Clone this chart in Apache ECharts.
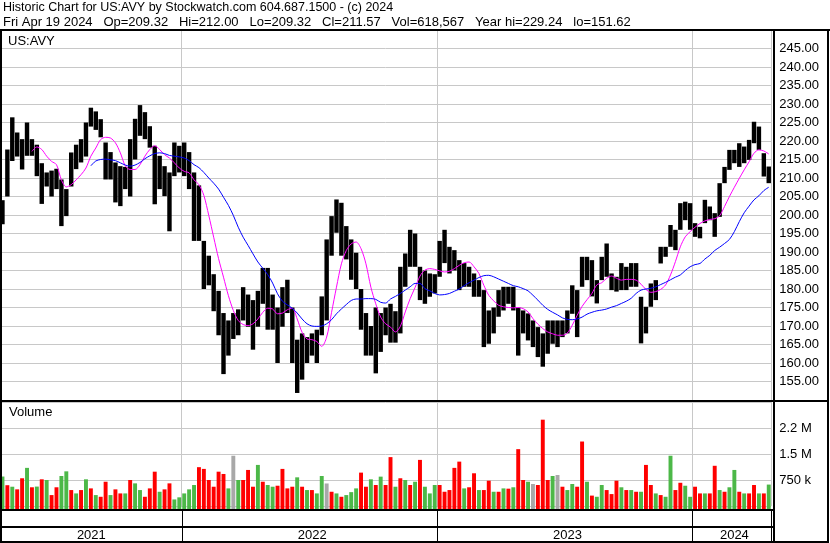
<!DOCTYPE html>
<html>
<head>
<meta charset="utf-8">
<title>Historic Chart for US:AVY</title>
<script src="https://cdn.jsdelivr.net/npm/echarts@6/dist/echarts.min.js"></script>
<style>
  html, body { margin: 0; padding: 0; background: #fff; }
  #chart { width: 830px; height: 543px; }
</style>
</head>
<body>
<div id="chart"></div>
<script>
// 年份与每年的周数（周线数据）
const yearLabels = ['2021', '2022', '2023', '2024'];
const weeksPerYear = [37, 52, 52, 16];

// 每周最高价
const weeklyHigh = [
  204, 217.7, 226.4, 222.3, 220.5, 225, 220.5, 219, 214, 211.5, 212, 212.5, 209.6, 207, 216.9, 219, 220.5, 225, 229, 228,
  225.9, 219.6, 217, 214.2, 213.2, 213, 220.5, 226, 229.7, 227.8, 224, 218.7, 216, 213.2, 211.5, 219.6, 218.7,
  219.6, 217, 211.5, 208, 193, 189, 184, 179.5, 173.5, 171.5, 173.5, 174.5, 180.5, 178.5, 177, 179.5, 185.7, 185.7, 178.5,
  175, 180.5, 182.5, 175, 166.3, 168, 167, 168, 169, 178, 193.4, 199.7, 204.2, 203.3, 197, 193.4, 189.8, 180, 173.5, 170,
  175, 173.5, 175, 176, 174, 186, 189.6, 196, 195, 186, 185, 184.2, 184,
  193, 196, 191.4, 190.5, 187.8, 187, 186, 184.2, 182.4, 179.7, 174.2, 175, 179.7, 180.6, 180.6, 180.6, 175, 174.2, 173.4,
  171.5, 169.7, 168, 171.5, 171.5, 171.5, 171.5, 174.2, 181, 179.7, 188.7, 188.7, 187.8, 182.4, 188.7, 192.3, 184.2, 183.3,
  187, 186, 187, 187, 177.9, 175.2, 181.5, 182.4, 191.4, 191.4, 197.3, 196, 203.2, 203.6, 203.2,
  197.8, 196.8, 204.1, 202.3, 200.5, 208.6, 213, 217.6, 217.6, 219.4, 218.5, 220.3, 225.2, 223.9, 216.7, 213.1
];

// 每周最低价
const weeklyLow = [
  197.5, 205, 214.6, 215.8, 212.3, 216, 216, 210.5, 203, 207.7, 205, 207, 197, 199.7, 207.7, 212.4, 214.2, 215.8, 223.9, 223,
  221, 209.6, 209.6, 203.4, 202.4, 207, 205, 215, 221.4, 220.5, 218.2, 202.9, 207, 205.1, 195.6, 210.5, 211.5,
  210.5, 207, 193, 193, 180, 181, 174, 167.5, 157, 162, 166.5, 167.5, 171.5, 169.8, 163.6, 169.8, 176, 169, 169,
  160, 169.8, 173.5, 160, 151.9, 155.5, 160, 162, 160, 167.5, 171.5, 189, 195.2, 189, 188, 182.5, 180, 169, 162, 162,
  157.2, 163, 167.5, 165.5, 165.5, 168, 180.6, 186, 186, 177, 176, 177.9, 178.8,
  183.3, 187, 184.2, 185, 179.7, 180.6, 180.6, 177.9, 177.9, 164.3, 165.2, 168, 172.5, 174.2, 176, 174.2, 162, 168, 166.1,
  164.3, 161.6, 159, 162.5, 165.2, 164.3, 167, 168, 173.3, 167, 180.6, 182.4, 178, 176.1, 182.4, 183.3, 179.7, 179.3,
  179.7, 179.7, 180.6, 180.6, 165.3, 168, 175.2, 177, 186.9, 188.7, 191.4, 190.5, 196, 198.6, 196,
  194.1, 193.7, 197.8, 198.6, 194.1, 199.5, 208.6, 212.2, 214, 213, 214, 214.9, 219.4, 217.6, 210.4, 208.6
];

// 短期均线（洋红）
const maFast = [
  null, null, null, null, null, null, 217.2, 218.4, 217.7, 215.9, 214.5, 213.6, 209.5, 207.6, 208.2, 209.5, 210.9, 212.7, 215.9, 218.1,
  220.4, 221, 220.8, 219.5, 216.8, 213.3, 212.3, 212.3, 213.6, 215.9, 217.7, 218.7, 217.7, 216.3, 215.4, 214.1, 212.7,
  211.8, 211.4, 209.5, 208.2, 205.3, 199.9, 194, 188.2, 183.2, 178.2, 174.2, 171.5, 170.4, 170.1, 170.6, 171.9, 173.7, 174.8, 174.6,
  173.3, 173.5, 174.4, 174.8, 171.9, 168.3, 166.5, 166.3, 165.8, 164.5, 167, 173.7, 180.5, 186.8, 190.4, 192.2, 192.7, 190.9, 186.8, 180.5,
  176, 172.4, 170.6, 169.7, 168.4, 169.9, 173.8, 177.4, 180.4, 183.5, 185.1, 185.5, 185.3,
  184.9, 184.6, 184.8, 185.5, 186.4, 187.1, 187.3, 186, 184.2, 181, 178.3, 176.8, 175.6, 175.2, 175, 174.9, 175, 174.7, 173.8,
  172, 170.5, 169.3, 168.4, 167.9, 167.5, 167.5, 168.1, 170.2, 172.9, 175.3, 177.1, 178.8, 181.1, 181.7, 182.9, 183.5, 182.9,
  182.4, 182.6, 182.6, 182.4, 181.3, 179.9, 179.1, 179.3, 179.9, 181.1, 183.8, 187.4, 191.4, 194.1, 195.5,
  196.7, 197.7, 198.4, 198.8, 199, 199.8, 202.3, 205, 207.5, 209.9, 212.2, 214.4, 216.7, 217.6, 217.3, 216.5
];

// 长期均线（蓝色）
const maSlow = [
  null, null, null, null, null, null, null, null, null, null, null, null, null, null, null, null, null, null, 213.3, 214.6,
  215, 215.1, 214.9, 214.7, 214.1, 213.5, 213.2, 213.5, 214.2, 215.2, 216, 216.6, 216.8, 216.6, 216.1, 215.9, 215.7,
  215.4, 214.7, 213.6, 212.8, 211.5, 210, 208.6, 207, 204.8, 202.6, 199.9, 196.7, 194, 191.8, 189.5, 187.3, 185.6, 183.9, 181.6,
  178.7, 176.7, 175.7, 174.8, 173.5, 171.9, 170.6, 170, 169.9, 170, 170.6, 171.7, 173.3, 174.6, 175.8, 176.9, 177.3, 177.3, 177.4, 177.4,
  177.2, 176.4, 176.2, 177.3, 178, 178.8, 179.7, 180.6, 181.5, 181.5, 180.1, 179.5, 178.8,
  178.4, 178.5, 178.8, 179.4, 180, 180.9, 181.7, 182.4, 183.1, 183.6, 183.7, 183.3, 182.7, 182.1, 181.5, 180.9, 180.6, 180.1, 179.5,
  178.3, 177, 175.6, 174.5, 173.7, 173, 172.2, 171.8, 171.7, 171.9, 172.4, 173.2, 173.7, 174.1, 174.3, 174.6, 175.1, 175.5,
  176.1, 176.7, 177.5, 178.8, 179.7, 180, 180.2, 180.6, 181.2, 181.8, 182.5, 183.2, 183.8, 185, 186,
  186.6, 186.9, 188.1, 189.1, 190.4, 191.3, 192.3, 193.4, 195.5, 198.2, 200.6, 202.4, 204.1, 205.2, 206.6, 207.5
];

// 成交量（千股）
const volumeK = [
  850, 600, 556, 480, 800, 1100, 540, 560, 770, 750, 315, 540, 866, 1000, 460, 363, 460, 770, 508, 315,
  266, 700, 315, 480, 363, 363, 750, 653, 460, 266, 508, 990, 411, 480, 653, 189, 250,
  363, 480, 605, 1120, 1070, 750, 556, 990, 924, 508, 1450, 750, 750, 1040, 556, 1185, 700, 605, 556, 585,
  1070, 508, 556, 827, 556, 460, 460, 363, 866, 650, 411, 363, 266, 315, 400, 508, 963, 556, 770, 605,
  847, 605, 1410, 556, 800, 750, 605, 700, 1330, 556, 363, 605,
  605, 411, 460, 1100, 1280, 508, 540, 944, 460, 460, 730, 411, 411, 508, 500, 540, 1640, 750, 700, 634,
  605, 2490, 750, 866, 895, 556, 460, 634, 556, 1860, 700, 300, 266, 605, 460, 344, 730, 540, 460, 460,
  411, 411, 1185, 605, 363, 315, 266, 1450, 460, 670, 585, 266,
  556, 363, 363, 363, 1160, 460, 411, 540, 1040, 411, 363, 363, 605, 363, 363, 618
];

// 成交量颜色：g 上涨，r 下跌，n 平
const volumeDir = (
  'grgrrgrgrgrrggrgrgrgrrgrrgrggrrrgrrgg' +
  'gggrrrrrrgngrrrgrggrrrrgrgrggnrgrgggrrgrgrrgrgrgrggg' +
  'rrrrrgrrgrrgrgrgrrgnrrrgnrggrrgrggrrrgrgrgrrgrggrrgg' +
  'rrgrrgrggrgrrgrg'
).split('');

const priceTickStep = 5;
const volumeTicks = [750, 1500, 2250];
const volumeTickLabels = ['750 k', '1.5 M', '2.2 M'];

const headerLine1 = 'Historic Chart for US:AVY by Stockwatch.com 604.687.1500 - (c) 2024';
const headerLine2 = 'Fri Apr 19 2024   Op=209.32   Hi=212.00   Lo=209.32   Cl=211.57   Vol=618,567   Year hi=229.24   lo=151.62';

// 周分类与年份边界
const weeks = [];
const yearStarts = [];
const yearMid = {};
yearLabels.forEach((y, k) => {
  if (k > 0) yearStarts.push(weeks.length);
  yearMid[weeks.length + Math.floor(weeksPerYear[k] / 2)] = y;
  for (let w = 0; w < weeksPerYear[k]; w++) weeks.push(y + '-W' + (w + 1));
});

const FONT = 'Liberation Sans, Arial, sans-serif';
const dirColor = { g: '#4cb848', r: '#ff0000', n: '#a8a8a8' };
const gridColor = '#c8c8c8';

const chart = echarts.init(document.getElementById('chart'));

const weekAxis = (gridIndex, extra) => Object.assign({
  type: 'category',
  gridIndex: gridIndex,
  data: weeks,
  boundaryGap: true,
  axisLine: { show: false },
  axisTick: { show: false },
  axisLabel: { show: false },
  splitLine: {
    show: true,
    interval: (idx) => yearStarts.includes(idx),
    lineStyle: { color: gridColor, width: 1 }
  }
}, extra || {});

const frame = (x, y, w, h) => ({
  type: 'rect', z: 100, silent: true,
  shape: { x: x, y: y, width: w, height: h },
  style: { fill: '#000' }
});

chart.setOption({
  animation: false,
  grid: [
    { left: 0, right: 58.8, top: 30, height: 370 },
    { left: 0, right: 58.8, top: 402, height: 104 },
    { left: 0, right: 58.8, top: 510, height: 32 }
  ],
  xAxis: [
    weekAxis(0),
    weekAxis(1),
    weekAxis(2, {
      splitLine: {
        show: true,
        interval: (idx) => yearStarts.includes(idx),
        lineStyle: { color: '#000', width: 1 }
      },
      axisLabel: {
        show: true,
        inside: true,
        interval: 0,
        margin: 0,
        color: '#000',
        fontFamily: FONT,
        fontSize: 13,
        formatter: (v, idx) => yearMid[idx] || ''
      }
    })
  ],
  yAxis: [
    {
      type: 'value', gridIndex: 0, position: 'right',
      min: 150, max: 250, interval: priceTickStep,
      axisLine: { show: false }, axisTick: { show: false },
      axisLabel: {
        margin: 8, color: '#000', fontFamily: FONT, fontSize: 13,
        showMinLabel: false, showMaxLabel: false,
        formatter: (v) => v.toFixed(2)
      },
      splitLine: { lineStyle: { color: gridColor, width: 1 } }
    },
    {
      type: 'value', gridIndex: 1, position: 'right',
      min: 0, max: 3000, interval: 750,
      axisLine: { show: false }, axisTick: { show: false },
      axisLabel: {
        margin: 8, color: '#000', fontFamily: FONT, fontSize: 13,
        showMinLabel: false, showMaxLabel: false,
        formatter: (v) => {
          const k = volumeTicks.indexOf(v);
          return k >= 0 ? volumeTickLabels[k] : '';
        }
      },
      splitLine: { lineStyle: { color: gridColor, width: 1 } }
    },
    { type: 'value', gridIndex: 2, show: false }
  ],
  series: [
    {
      name: 'Price',
      type: 'custom',
      xAxisIndex: 0, yAxisIndex: 0,
      data: weeklyHigh.map((h, i) => [i, weeklyLow[i], h]),
      encode: { x: 0, y: [1, 2] },
      renderItem: (params, api) => {
        const lo = api.coord([api.value(0), api.value(1)]);
        const hi = api.coord([api.value(0), api.value(2)]);
        const w = api.size([1, 0])[0] * 0.9;
        return {
          type: 'rect',
          shape: { x: lo[0] - w / 2, y: hi[1], width: w, height: Math.max(1, lo[1] - hi[1]) },
          style: { fill: '#000' }
        };
      }
    },
    {
      name: 'MA fast',
      type: 'line',
      xAxisIndex: 0, yAxisIndex: 0,
      data: maFast,
      smooth: 0.3,
      showSymbol: false,
      lineStyle: { color: '#ff00ff', width: 1 },
      z: 3
    },
    {
      name: 'MA slow',
      type: 'line',
      xAxisIndex: 0, yAxisIndex: 0,
      data: maSlow,
      smooth: 0.3,
      showSymbol: false,
      lineStyle: { color: '#0000ff', width: 1 },
      z: 3
    },
    {
      name: 'Volume',
      type: 'custom',
      xAxisIndex: 1, yAxisIndex: 1,
      data: volumeK.map((v, i) => [i, v]),
      encode: { x: 0, y: 1 },
      renderItem: (params, api) => {
        const top = api.coord([api.value(0), api.value(1)]);
        const base = params.coordSys.y + params.coordSys.height + 3;
        const w = api.size([1, 0])[0] * 0.8;
        return {
          type: 'rect',
          shape: { x: top[0] - w / 2, y: top[1], width: w, height: base - top[1] },
          style: { fill: dirColor[volumeDir[params.dataIndex]] }
        };
      }
    }
  ],
  graphic: [
    { type: 'text', left: 3, top: 1, silent: true,
      style: { text: headerLine1, font: '12.5px ' + FONT, fill: '#000' } },
    { type: 'text', left: 3, top: 16, silent: true,
      style: { text: headerLine2, font: '13px ' + FONT, fill: '#000' } },
    { type: 'text', left: 8, top: 35, silent: true,
      style: { text: 'US:AVY', font: '13px ' + FONT, fill: '#000' } },
    { type: 'text', left: 9, top: 406, silent: true,
      style: { text: 'Volume', font: '13px ' + FONT, fill: '#000' } },
    frame(0, 29, 830, 2),
    frame(0, 29, 2, 514),
    frame(827, 29, 2, 514),
    frame(773, 29, 2, 514),
    frame(0, 400, 829, 2),
    frame(0, 509, 775, 2),
    frame(0, 526, 775, 2),
    frame(0, 541, 829, 2)
  ]
});
</script>
</body>
</html>
